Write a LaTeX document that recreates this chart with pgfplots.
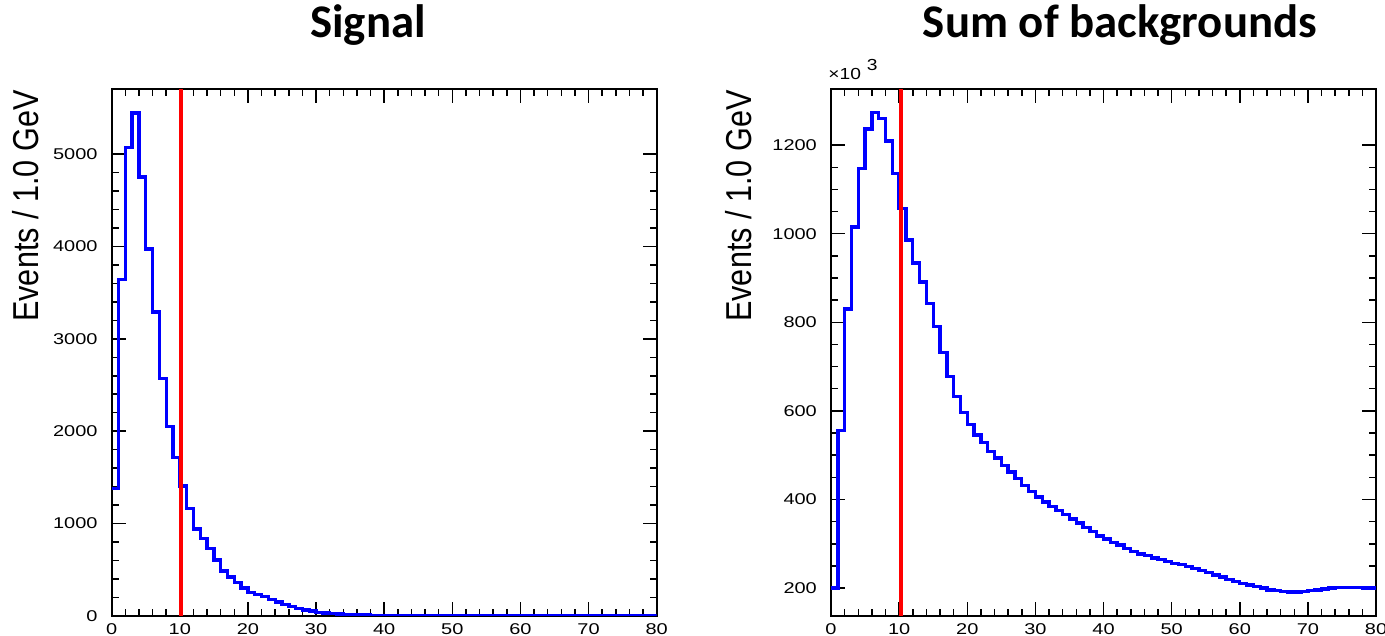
\documentclass[border=0pt]{standalone}
\usepackage{fontspec}
\setmainfont{Liberation Sans}
\newfontfamily\titlefont{Carlito}
\usepackage{graphicx}
\usepackage{pgfplots}
\pgfplotsset{compat=1.18}
\usepackage{pgfplotstable}

\pgfplotstableread{
x y
0 1380
1 3640
2 5070
3 5445
4 4750
5 3970
6 3290
7 2570
8 2050
9 1715
10 1405
11 1165
12 940
13 840
14 730
15 605
16 485
17 420
18 360
19 305
20 255
21 235
22 212
23 180
24 150
25 125
26 103
27 84
28 67
29 52
30 41
31 34
32 28
33 23
34 19
35 15
36 12
37 10
38 8
39 7
40 6
41 5
42 5
43 4
44 4
45 4
46 3
47 3
48 3
49 3
50 2
51 2
52 2
53 2
54 2
55 2
56 2
57 1
58 1
59 1
60 1
61 1
62 1
63 1
64 1
65 1
66 1
67 1
68 1
69 1
70 1
71 1
72 1
73 1
74 1
75 1
76 1
77 1
78 1
79 1
80 1
}\sig

\pgfplotstableread{
x y
0 200
1 556
2 830
3 1015
4 1147
5 1236
6 1273
7 1260
8 1209
9 1136
10 1057
11 986
12 934
13 891
14 843
15 791
16 732
17 678
18 633
19 597
20 569
21 546
22 528
23 509
24 494
25 477
26 462
27 447
28 432
29 418
30 406
31 394
32 384
33 375
34 366
35 356
36 347
37 337
38 328
39 318
40 311
41 303
42 297
43 289
44 283
45 277
46 273
47 268
48 264
49 260
50 256
51 253
52 249
53 244
54 240
55 235
56 230
57 225
58 220
59 215
60 211
61 207
62 204
63 200
64 196
65 194
66 192
67 191
68 191
69 192
70 194
71 196
72 198
73 200
74 201
75 202
76 202
77 201
78 200
79 200
80 200
}\bkg

\begin{document}
\begin{tikzpicture}
\path[use as bounding box] (0,0) rectangle (692.5pt,318pt);
\pgfplotsset{
  roothist/.style={
    scale only axis, width=272.5pt, height=263.35pt,
    xmin=0, xmax=80,
    axis line style={line width=1pt},
    tick align=inside,
    xtick pos=both, ytick pos=both,
    major tick length=7pt, minor tick length=3.5pt,
    every tick/.style={black, line width=0.75pt},
    xtick={0,10,...,80}, minor x tick num=4,
    tick label style={font=\fontsize{7.8}{9}\selectfont, xscale=1.28},
    /pgf/number format/assume math mode=true,
    /pgf/number format/1000 sep={},
    scaled y ticks=false,
    yticklabel style={xshift=-2pt},
    xticklabel style={yshift=-0.5pt},
  }
}
\begin{axis}[roothist, at={(55.85pt,10pt)}, anchor=south west,
  ymin=0, ymax=5700, ytick={0,1000,...,5000}, minor y tick num=4]
\addplot[const plot, blue, line width=1.7pt] table {\sig};
\addplot[red, line width=2pt] coordinates {(10.2,0) (10.2,5700)};
\end{axis}
\begin{axis}[roothist, at={(415.5pt,10pt)}, anchor=south west,
  ymin=137, ymax=1326, ytick={200,400,...,1200}, minor y tick num=3]
\addplot[const plot, blue, line width=1.7pt] table {\bkg};
\addplot[red, line width=2pt] coordinates {(10.2,137) (10.2,1326)};
\end{axis}
\node[anchor=base, font=\titlefont\bfseries\fontsize{23.4}{26}\selectfont] at (184pt,299pt) {Signal};
\node[anchor=base, font=\titlefont\bfseries\fontsize{23.4}{26}\selectfont] at (560pt,299pt) {Sum of backgrounds};
\node[rotate=90, anchor=base east, inner sep=0pt, font=\fontsize{18}{20}\selectfont] at (19pt,273pt) {\scalebox{0.85}[1]{Events / 1.0 GeV}};
\node[rotate=90, anchor=base east, inner sep=0pt, font=\fontsize{18}{20}\selectfont] at (375.5pt,273pt) {\scalebox{0.85}[1]{Events / 1.0 GeV}};
\node[anchor=base west, inner sep=0pt, font=\fontsize{8}{9}\selectfont] at (414pt,278pt) {\scalebox{1.2}[1]{×10\hspace{2.5pt}\raisebox{4.5pt}{3}}};
\end{tikzpicture}
\end{document}
